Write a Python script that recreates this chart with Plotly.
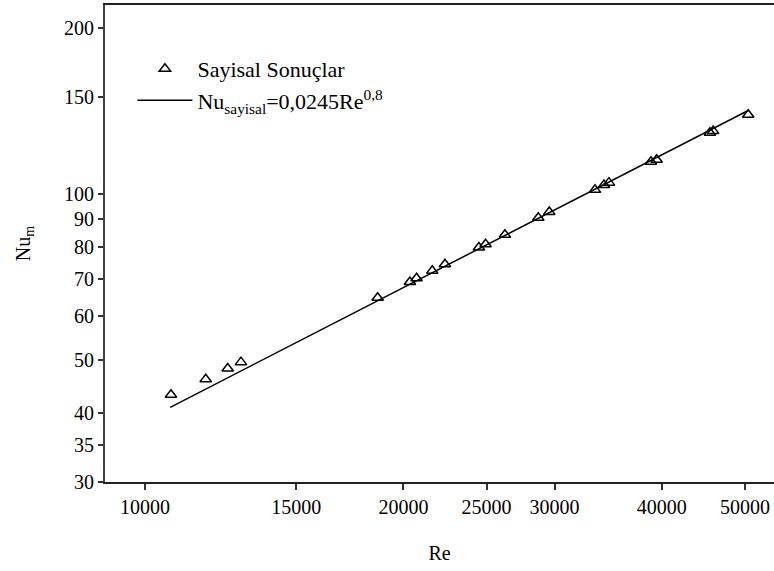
import plotly.graph_objects as go

# Numerical results: Reynolds number vs mean Nusselt number
re_vals = [10722, 11769, 12484, 12936, 18666, 20352, 20721, 21610, 22359,
           24490, 24934, 26262, 28722, 29580, 33438, 34256, 34714, 38856,
           39453, 45514, 45918, 50443]
nu_vals = [43.2, 46.1, 48.2, 49.5, 64.8, 69.2, 70.3, 72.5, 74.5,
           79.9, 81.0, 84.3, 90.5, 92.7, 101.7, 103.8, 104.8, 114.4,
           115.3, 129.1, 130.0, 139.2]

# Correlation Nu = C * Re^n over the plotted range
corr_c = 0.0245
corr_n = 0.8
line_re = [10700, 50500]
line_nu = [corr_c * r ** corr_n for r in line_re]

x_ticks = [10000, 15000, 20000, 25000, 30000, 40000, 50000]
y_ticks = [30, 35, 40, 50, 60, 70, 80, 90, 100, 150, 200]

FONT = "Liberation Serif, Times New Roman, serif"

fig = go.Figure()
fig.add_trace(go.Scatter(
    x=re_vals, y=nu_vals, mode="markers", name="Sayisal Sonuçlar",
    marker=dict(symbol="triangle-up-open", size=10, color="black",
                line=dict(width=1.5, color="black")),
))
fig.add_trace(go.Scatter(
    x=line_re, y=line_nu, mode="lines",
    name="Nu<sub>sayisal</sub>=0,0245Re<sup>0,8</sup>",
    line=dict(color="black", width=1.5),
))

fig.update_layout(
    width=774, height=571, autosize=False,
    margin=dict(l=105, r=0, t=5, b=89),
    paper_bgcolor="white", plot_bgcolor="white",
    font=dict(family=FONT, size=20, color="black"),
    showlegend=True,
    legend=dict(x=0.041, y=0.91, xanchor="left", yanchor="top",
                bgcolor="rgba(0,0,0,0)", itemwidth=55,
                font=dict(family=FONT, size=22, color="black"),
                tracegroupgap=0),
    xaxis=dict(
        type="log", range=[3.9534, 4.7328],
        tickvals=x_ticks, ticktext=[str(v) for v in x_ticks],
        ticks="outside", ticklen=6, tickwidth=1.5, tickcolor="#333",
        showline=True, linecolor="#222", linewidth=2, mirror=True,
        showgrid=False, zeroline=False,
        tickfont=dict(family=FONT, size=20, color="black"),
        title=dict(text="Re", font=dict(family=FONT, size=20, color="black"),
                   standoff=29),
    ),
    yaxis=dict(
        type="log", range=[1.4771, 2.3428],
        tickvals=y_ticks, ticktext=[str(v) for v in y_ticks],
        ticks="outside", ticklen=5, tickwidth=1.5, tickcolor="#333",
        showline=True, linecolor="#444", linewidth=2, mirror=False,
        showgrid=False, zeroline=False,
        tickfont=dict(family=FONT, size=20, color="black"),
        title=dict(text="Nu<sub>m</sub>",
                   font=dict(family=FONT, size=20, color="black"),
                   standoff=28),
    ),
)

fig.write_html("out.html")
